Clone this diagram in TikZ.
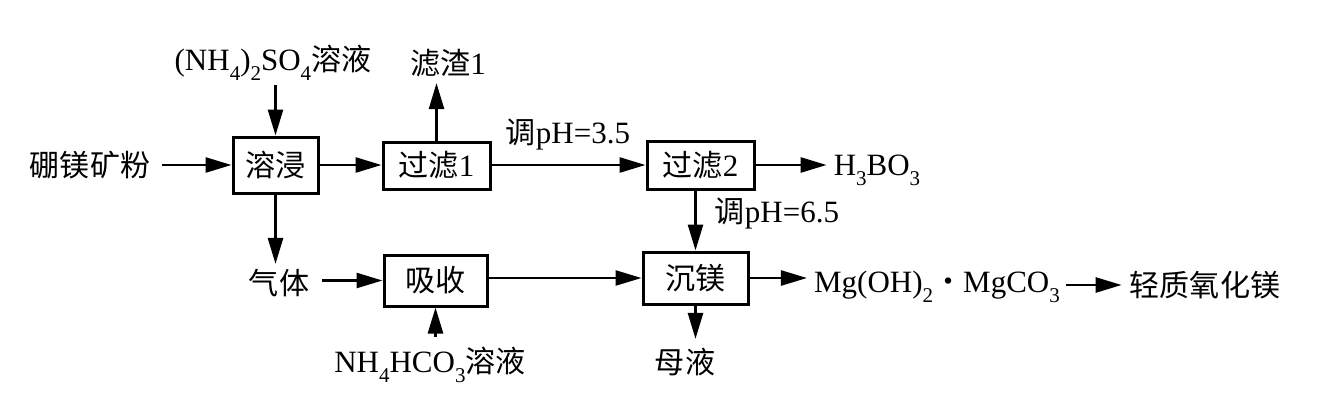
\documentclass[tikz,border=0pt]{standalone}
\usepackage{fontspec}
\setmainfont{Liberation Serif}
\newfontfamily\cjk{Noto Sans CJK SC}[Scale=0.97]
\usetikzlibrary{arrows.meta}
\newcommand{\zh}[1]{{\cjk #1}}
\newcommand{\sbs}[1]{\raisebox{-0.32em}{\fontsize{21}{21}\selectfont #1}}
\tikzset{
  box/.style={draw, line width=3pt, minimum width=#1, inner sep=0pt},
  txt/.style={inner sep=0pt, anchor=center},
  arr/.style={line width=2.6pt, -{Triangle[length=26pt,width=15pt]}},
}
\begin{document}
\begin{tikzpicture}[x=1pt,y=-1pt,font=\fontsize{31}{36}\selectfont]
\useasboundingbox (0,0) rectangle (1328,404);
% boxes
\node[box=85pt, minimum height=56pt] (jj) at (275.5,165) {\zh{溶浸}};
\node[box=107pt, minimum height=47pt] (gl1) at (436.5,165.5) {\zh{过滤}1};
\node[box=107pt, minimum height=48pt] (gl2) at (700.5,165) {\zh{过滤}2};
\node[box=103pt, minimum height=51pt] (xs) at (435.5,280.5) {\zh{吸收}};
\node[box=105pt, minimum height=52pt] (cm) at (695.5,278) {\zh{沉镁}};
% texts
\node[txt] (ore) at (90,165) {\zh{硼镁矿粉}};
\node[txt] (nhso) at (273,63) {(NH\sbs{4})\sbs{2}SO\sbs{4}\zh{溶液}};
\node[txt] (lz) at (448,63) {\zh{滤渣}1};
\node[txt] (ph1) at (568,135) {\zh{调}pH=3.5};
\node[txt] (hbo) at (877,170) {H\sbs{3}BO\sbs{3}};
\node[txt] (ph2) at (777,213) {\zh{调}pH=6.5};
\node[txt] (gas) at (279,283) {\zh{气体}};
\node[txt] (nhco) at (430,365) {NH\sbs{4}HCO\sbs{3}\zh{溶液}};
\node[txt] (my) at (685,362) {\zh{母液}};
\node[txt] (mg) at (937,287) {Mg(OH)\sbs{2}{\cjk ·}MgCO\sbs{3}};
\node[txt] (qz) at (1205,285) {\zh{轻质氧化镁}};
% connectors
\draw[arr, shorten <=12pt] (ore.east |- jj.west) -- (jj.west);
\draw[arr, shorten <=4pt] (jj.north |- nhso.south) -- (jj.north);
\draw[arr] (jj.east) -- (jj.east -| gl1.west);
\draw[arr, shorten >=6pt] (gl1.north) -- (gl1.north |- lz.south);
\draw[arr] (gl1.east |- gl2.west) -- (gl2.west);
\draw[arr, shorten >=7pt] (gl2.east) -- (gl2.east -| hbo.west);
\draw[arr] (cm.north |- gl2.south) -- (cm.north);
\draw[arr, shorten >=5pt] (jj.south) -- (jj.south |- gas.north);
\draw[arr, shorten <=13pt] (gas.east |- xs.west) -- (xs.west);
\draw[arr, shorten <=10pt] (xs.south |- nhco.north) -- (xs.south);
\draw[arr] (xs.east |- cm.west) -- (cm.west);
\draw[arr, shorten >=7pt] (cm.east) -- (cm.east -| mg.west);
\draw[arr, shorten >=9pt] (cm.south) -- (cm.south |- my.north);
\draw[arr, shorten <=6pt, shorten >=8pt] (mg.east |- qz.west) -- (qz.west);
\end{tikzpicture}
\end{document}
